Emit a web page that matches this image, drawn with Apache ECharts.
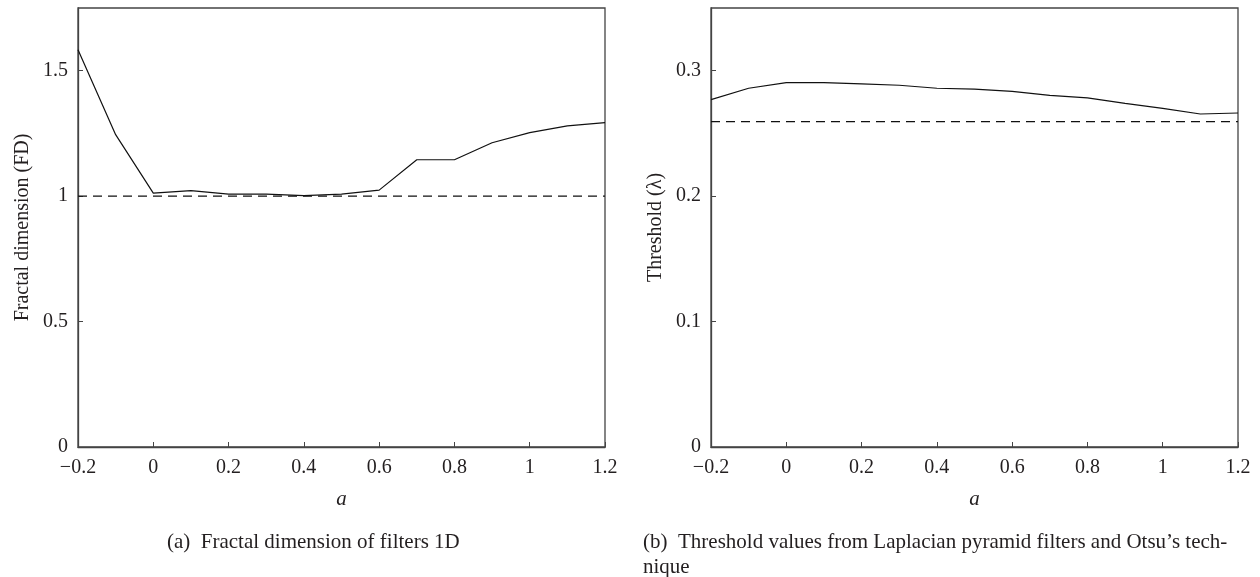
<!DOCTYPE html>
<html lang="en">
<head>
    <meta charset="UTF-8">
    <title>Fractal dimension and threshold</title>
    <script src="https://cdn.jsdelivr.net/npm/echarts@6/dist/echarts.min.js"></script>
    <style>
        html, body { margin: 0; padding: 0; background: #fff; }
        #chart { width: 1260px; height: 577px; }
    </style>
</head>
<body>
<div id="chart"></div>
<script type="text/javascript">
    // a values (shared by both panels)
    var aValues = [-0.2, -0.1, 0, 0.1, 0.2, 0.3, 0.4, 0.5, 0.6, 0.7, 0.8, 0.9, 1.0, 1.1, 1.2];
    // (a) fractal dimension
    var fdValues = [1.584, 1.245, 1.012, 1.022, 1.008, 1.008, 1.002, 1.008, 1.024, 1.145, 1.145, 1.213, 1.253, 1.280, 1.293];
    var fdRef = 1;
    // (b) threshold
    var thValues = [0.277, 0.286, 0.2905, 0.2905, 0.2895, 0.2884, 0.286, 0.2853, 0.2835, 0.2804, 0.2783, 0.2740, 0.2700, 0.2655, 0.2663];
    var thRef = 0.2594;

    var xTicks = [-0.2, 1.2, 0.2];   // min, max, step
    var fdTicks = [0, 1.75, 0.5];
    var thTicks = [0, 0.35, 0.1];

    function pairs(xs, ys) {
        var out = [];
        for (var i = 0; i < xs.length; i++) out.push([xs[i], ys[i]]);
        return out;
    }
    function flat(v) {
        return [[aValues[0], v], [aValues[aValues.length - 1], v]];
    }

    var txt = '#231f20';
    var serif = 'Liberation Serif';

    function xAxisOf(idx) {
        return {
            gridIndex: idx,
            type: 'value',
            min: xTicks[0], max: xTicks[1], interval: xTicks[2],
            name: 'a',
            nameLocation: 'middle',
            nameGap: 42,
            nameTextStyle: { fontFamily: serif, fontStyle: 'italic', fontSize: 21, color: txt },
            splitLine: { show: false },
            axisLine: { onZero: false, lineStyle: { color: '#444', width: 1.3 } },
            axisTick: { inside: true, length: 5, lineStyle: { color: '#444' } },
            axisLabel: {
                fontFamily: serif, fontSize: 20, color: txt, margin: 11,
                formatter: function (v) { return String(v).replace('-', '\u2212'); }
            }
        };
    }
    function yAxisOf(idx, t, name, gap) {
        return {
            gridIndex: idx,
            type: 'value',
            min: t[0], max: t[1], interval: t[2],
            name: name,
            nameLocation: 'middle',
            nameGap: gap,
            nameTextStyle: { fontFamily: serif, fontSize: 20, color: txt },
            splitLine: { show: false },
            axisLine: { onZero: false, lineStyle: { color: '#444', width: 1.3 } },
            axisTick: { inside: true, length: 5, lineStyle: { color: '#444' } },
            axisLabel: { fontFamily: serif, fontSize: 20, color: txt, margin: 10, showMaxLabel: false }
        };
    }

    var myChart = echarts.init(document.getElementById('chart'));
    var option = {
        animation: false,
        backgroundColor: '#fff',
        title: [
            {
                text: '(a)  Fractal dimension of filters 1D',
                left: 162, top: 527,
                textStyle: { fontFamily: serif, fontSize: 21, fontWeight: 'normal', color: txt }
            },
            {
                text: '(b)  Threshold values from Laplacian pyramid filters and Otsu\u2019s tech-\nnique',
                left: 638, top: 525,
                textStyle: { fontFamily: serif, fontSize: 21, fontWeight: 'normal', color: txt, lineHeight: 25 }
            }
        ],
        grid: [
            { left: 78, right: 655, top: 8, bottom: 130, show: true, borderColor: '#444', borderWidth: 1.3 },
            { left: 711, right: 22, top: 8, bottom: 130, show: true, borderColor: '#444', borderWidth: 1.3 }
        ],
        xAxis: [xAxisOf(0), xAxisOf(1)],
        yAxis: [
            yAxisOf(0, fdTicks, 'Fractal dimension (FD)', 45),
            yAxisOf(1, thTicks, 'Threshold (\u03bb)', 45)
        ],
        series: [
            {
                type: 'line', xAxisIndex: 0, yAxisIndex: 0,
                data: pairs(aValues, fdValues),
                showSymbol: false,
                lineStyle: { color: '#111', width: 1.2 }
            },
            {
                type: 'line', xAxisIndex: 0, yAxisIndex: 0,
                data: flat(fdRef),
                showSymbol: false,
                lineStyle: { color: '#111', width: 1.2, type: [9, 6] }
            },
            {
                type: 'line', xAxisIndex: 1, yAxisIndex: 1,
                data: pairs(aValues, thValues),
                showSymbol: false,
                lineStyle: { color: '#111', width: 1.2 }
            },
            {
                type: 'line', xAxisIndex: 1, yAxisIndex: 1,
                data: flat(thRef),
                showSymbol: false,
                lineStyle: { color: '#111', width: 1.2, type: [9, 6] }
            }
        ]
    };
    myChart.setOption(option);
</script>
</body>
</html>
